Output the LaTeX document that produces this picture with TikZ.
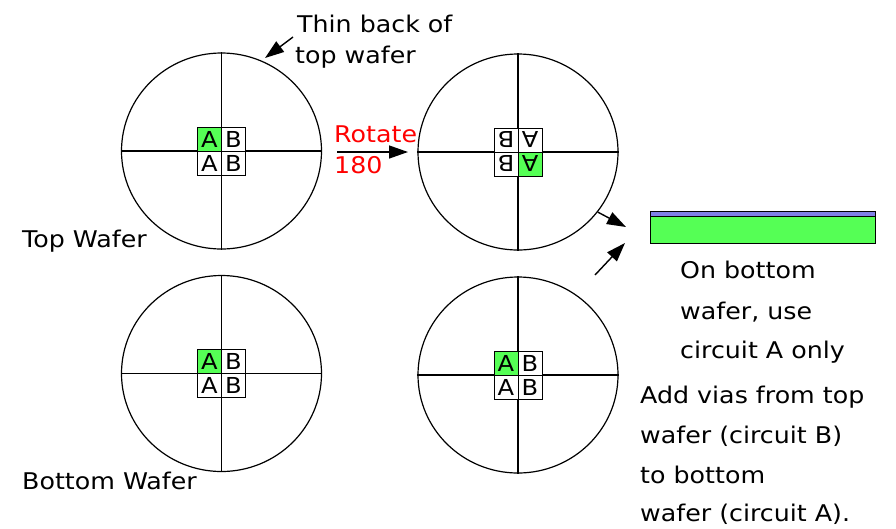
\documentclass[tikz,border=0pt]{standalone}
\usepackage{fontspec}
\setmainfont{DejaVu Sans}[FakeStretch=1.1]
\usetikzlibrary{arrows.meta,shapes.geometric}
\definecolor{chipgreen}{RGB}{85,255,85}
\definecolor{filmblue}{RGB}{128,128,230}
\begin{document}
\begin{tikzpicture}[x=1pt,y=-1pt,
  wafer/.style={ellipse,draw,line width=1.2pt,minimum width=200pt,minimum height=196pt,inner sep=0pt},
  axis/.style={line width=1.2pt},
  cell/.style={draw,line width=1pt,fill=white,minimum size=24pt,inner sep=0pt,
               font=\fontsize{22}{22}\selectfont},
  hot/.style={cell,fill=chipgreen},
  label/.style={anchor=base west,inner sep=0pt,font=\fontsize{23}{28}\selectfont},
  pointer/.style={line width=1.4pt,-{Triangle[length=19pt,width=13pt]}},
]
\useasboundingbox (0,0) rectangle (896,528);

% ---- the four wafers with their cross-hairs ----
\node[wafer] (w1) at (221.5,151) {};
\node[wafer] (w2) at (518,152) {};
\node[wafer] (w3) at (221.5,373.5) {};
\node[wafer] (w4) at (518,375) {};
\foreach \w in {w1,w2,w3,w4}
  \draw[axis] (\w.west) -- (\w.east) (\w.north) -- (\w.south);

% ---- die pairs (circuit A / circuit B) ----
\node[hot]  (w1a1) at ([shift={(-12,-12)}]w1.center) {A};
\node[cell] (w1b1) at ([shift={(12,-12)}]w1.center) {B};
\node[cell] (w1a2) at ([shift={(-12,12)}]w1.center) {A};
\node[cell] (w1b2) at ([shift={(12,12)}]w1.center) {B};

\node[cell] (w2b1) at ([shift={(-12,-12)}]w2.center) {\rotatebox{180}{B}};
\node[cell] (w2a1) at ([shift={(12,-12)}]w2.center) {\rotatebox{180}{A}};
\node[cell] (w2b2) at ([shift={(-12,12)}]w2.center) {\rotatebox{180}{B}};
\node[hot]  (w2a2) at ([shift={(12,12)}]w2.center) {\rotatebox{180}{A}};

\node[hot]  (w3a1) at ([shift={(-12,-12)}]w3.center) {A};
\node[cell] (w3b1) at ([shift={(12,-12)}]w3.center) {B};
\node[cell] (w3a2) at ([shift={(-12,12)}]w3.center) {A};
\node[cell] (w3b2) at ([shift={(12,12)}]w3.center) {B};

\node[hot]  (w4a1) at ([shift={(-12,-12)}]w4.center) {A};
\node[cell] (w4b1) at ([shift={(12,-12)}]w4.center) {B};
\node[cell] (w4a2) at ([shift={(-12,12)}]w4.center) {A};
\node[cell] (w4b2) at ([shift={(12,12)}]w4.center) {B};

% ---- bonded stack: thinned top wafer on bottom wafer ----
\node[draw,line width=1pt,fill=filmblue,anchor=north west,minimum width=225pt,minimum height=5pt,inner sep=0pt] (film) at (650,211) {};
\node[draw,line width=1pt,fill=chipgreen,anchor=north west,minimum width=225pt,minimum height=27pt,inner sep=0pt] (base) at (650,216) {};

% ---- labels ----
\node[label] (thin1) at (297,32) {Thin back of};
\node[label] (thin2) at (295,63) {top wafer};
\node[label] (topw) at (22,247) {Top Wafer};
\node[label] (botw) at (22,489) {Bottom Wafer};
\node[label,text=red] (rot1) at (334,142) {Rotate};
\node[label,text=red] (rot2) at (334,173) {180};

\node[label] (on1) at (680,278) {On bottom};
\node[label] (on2) at (680,319) {wafer, use};
\node[label] (on3) at (680,358) {circuit A only};

\node[label] (add1) at (640,403) {Add vias from top};
\node[label] (add2) at (640,443) {wafer (circuit B)};
\node[label] (add3) at (640,483) {to bottom};
\node[label] (add4) at (640,521) {wafer (circuit A).};

% ---- arrows ----
\coordinate (thintail) at (293,37);
\coordinate (thintip) at (265,58);
\draw[pointer] (thintail) -- (thintip);

\coordinate (rottail) at (337,152);
\coordinate (rottip) at (408,152);
\draw[pointer] (rottail) -- (rottip);

\coordinate (stackin1) at (626,227);
\draw[pointer] (w2.-37) -- (stackin1);
\coordinate (lowtail) at (595,275);
\coordinate (stackin2) at (625,243);
\draw[pointer] (lowtail) -- (stackin2);
\end{tikzpicture}
\end{document}
